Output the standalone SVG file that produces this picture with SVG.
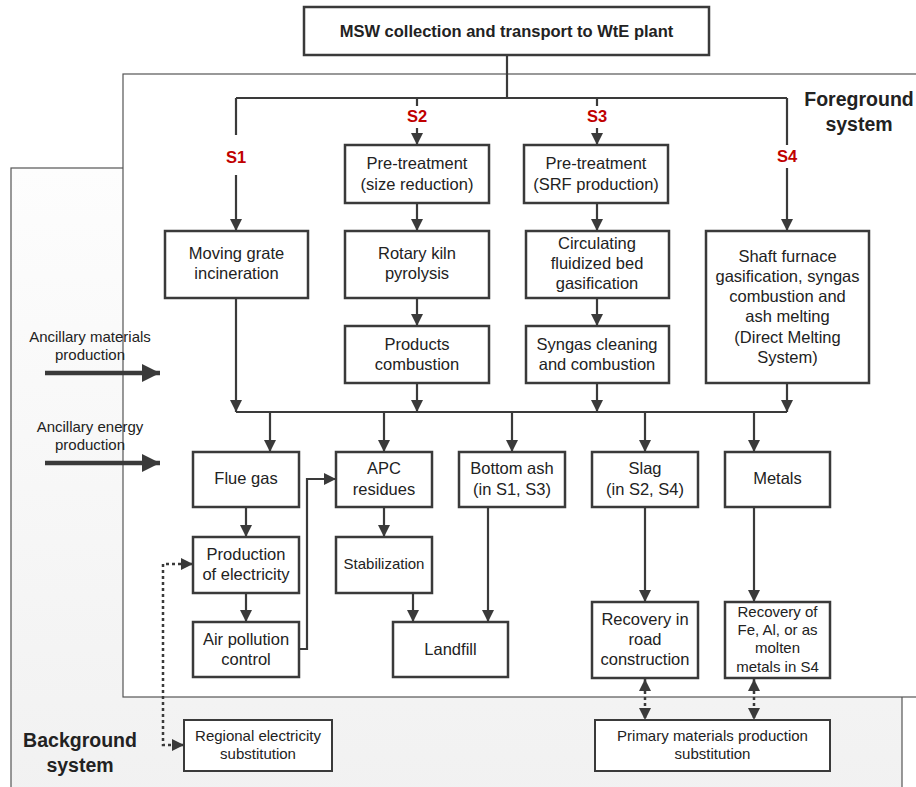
<svg xmlns="http://www.w3.org/2000/svg" width="916" height="787" viewBox="0 0 916 787">
<style>
.box{fill:#fff;stroke:#3a3a3a;stroke-width:2.5}
.sbox{fill:#fff;stroke:#3a3a3a;stroke-width:2}
.t{font-family:"Liberation Sans",Arial,sans-serif;font-size:16.5px;fill:#222;text-anchor:middle}
.ts{font-family:"Liberation Sans",Arial,sans-serif;font-size:15px;fill:#222;text-anchor:middle}
.tb{font-family:"Liberation Sans",Arial,sans-serif;font-size:16.5px;font-weight:bold;fill:#222;text-anchor:middle}
.lab{font-family:"Liberation Sans",Arial,sans-serif;font-size:16.5px;font-weight:bold;fill:#c00000;text-anchor:middle}
.sys{font-family:"Liberation Sans",Arial,sans-serif;font-size:19.5px;font-weight:bold;fill:#222;text-anchor:middle}
.c{fill:none;stroke:#3a3a3a;stroke-width:2.2}
.d{fill:none;stroke:#3a3a3a;stroke-width:2.5;stroke-dasharray:3,3}
.big{fill:none;stroke:#3a3a3a;stroke-width:4.5}
.bgr{fill:url(#bg);stroke:#555;stroke-width:1.2}
.fgr{fill:#fff;stroke:#555;stroke-width:1.2}
</style>
<defs>
<linearGradient id="bg" x1="0" y1="0" x2="0" y2="1">
<stop offset="0" stop-color="#fdfdfd"/>
<stop offset="1" stop-color="#f1f1f1"/>
</linearGradient>
<marker id="a" markerUnits="userSpaceOnUse" markerWidth="12" markerHeight="12" viewBox="0 0 12 12" refX="12" refY="6" orient="auto">
<path d="M0,0 L12,6 L0,12 z" fill="#3a3a3a"/>
</marker>
<marker id="as" markerUnits="userSpaceOnUse" markerWidth="12" markerHeight="12" viewBox="0 0 12 12" refX="0" refY="6" orient="auto">
<path d="M12,0 L0,6 L12,12 z" fill="#3a3a3a"/>
</marker>
<marker id="ab" markerUnits="userSpaceOnUse" markerWidth="18" markerHeight="18" viewBox="0 0 18 18" refX="18" refY="9" orient="auto">
<path d="M0,0 L18,9 L0,18 z" fill="#3a3a3a"/>
</marker>
</defs>
<rect width="916" height="787" fill="#fff"/>
<g id="background-system">
<rect class="bgr" x="11" y="168" width="891" height="640"/>
<text class="sys" x="80" y="747">Background</text>
<text class="sys" x="80" y="772">system</text>
</g>
<g id="foreground-system">
<rect class="fgr" x="123" y="74" width="820" height="623"/>
<text class="sys" x="859" y="106">Foreground</text>
<text class="sys" x="859" y="131">system</text>
</g>
<g id="connectors">
<path class="c" d="M507,55 V98"/>
<path class="c" d="M236,98 H787"/>
<path class="c" d="M236,98 V135"/>
<path class="c" d="M236,175 V231" marker-end="url(#a)"/>
<path class="c" d="M417,98 V106"/>
<path class="c" d="M417,128 V145" marker-end="url(#a)"/>
<path class="c" d="M597,98 V106"/>
<path class="c" d="M597,128 V145" marker-end="url(#a)"/>
<path class="c" d="M787,98 V145"/>
<path class="c" d="M787,168 V231" marker-end="url(#a)"/>
<path class="c" d="M417,203 V231" marker-end="url(#a)"/>
<path class="c" d="M597,203 V231" marker-end="url(#a)"/>
<path class="c" d="M417,298 V326" marker-end="url(#a)"/>
<path class="c" d="M597,298 V326" marker-end="url(#a)"/>
<path class="c" d="M236,298 V412" marker-end="url(#a)"/>
<path class="c" d="M417,383 V412" marker-end="url(#a)"/>
<path class="c" d="M597,383 V412" marker-end="url(#a)"/>
<path class="c" d="M787,383 V412" marker-end="url(#a)"/>
<path class="c" d="M236,412 H787"/>
<path class="c" d="M270,412 V452" marker-end="url(#a)"/>
<path class="c" d="M384,412 V452" marker-end="url(#a)"/>
<path class="c" d="M512,412 V452" marker-end="url(#a)"/>
<path class="c" d="M645,412 V452" marker-end="url(#a)"/>
<path class="c" d="M754,412 V452" marker-end="url(#a)"/>
<path class="c" d="M246,507 V537" marker-end="url(#a)"/>
<path class="c" d="M246,593 V622" marker-end="url(#a)"/>
<path class="c" d="M299,649 H307 V479 H336" marker-end="url(#a)"/>
<path class="c" d="M384,507 V537" marker-end="url(#a)"/>
<path class="c" d="M413,593 V622" marker-end="url(#a)"/>
<path class="c" d="M488,507 V622" marker-end="url(#a)"/>
<path class="c" d="M645,507 V602" marker-end="url(#a)"/>
<path class="c" d="M754,507 V602" marker-end="url(#a)"/>
<path class="d" d="M193,564 H163 V745 H184" marker-start="url(#as)" marker-end="url(#a)"/>
<path class="d" d="M645,679 V720" marker-start="url(#as)" marker-end="url(#a)"/>
<path class="d" d="M754,679 V720" marker-start="url(#as)" marker-end="url(#a)"/>
<path class="big" d="M45,373 H160" marker-end="url(#ab)"/>
<path class="big" d="M45,463 H160" marker-end="url(#ab)"/>
</g>
<g id="labels">
<text class="lab" x="236" y="163">S1</text>
<text class="lab" x="417" y="122">S2</text>
<text class="lab" x="597" y="122">S3</text>
<text class="lab" x="787" y="162">S4</text>
</g>
<g id="ancillary-materials">
<text class="ts" x="90" y="342">Ancillary materials</text>
<text class="ts" x="90" y="360">production</text>
</g>
<g id="ancillary-energy">
<text class="ts" x="90" y="432">Ancillary energy</text>
<text class="ts" x="90" y="450">production</text>
</g>
<g id="msw">
<rect class="box" x="304" y="7" width="405" height="48"/>
<text class="tb" x="506.5" y="37">MSW collection and transport to WtE plant</text>
</g>
<g id="pre-size">
<rect class="box" x="345" y="145" width="144" height="58"/>
<text class="t" x="417" y="169">Pre-treatment</text>
<text class="t" x="417" y="190">(size reduction)</text>
</g>
<g id="pre-srf">
<rect class="box" x="524" y="145" width="144" height="58"/>
<text class="t" x="596" y="169">Pre-treatment</text>
<text class="t" x="596" y="190">(SRF production)</text>
</g>
<g id="moving-grate">
<rect class="box" x="165" y="231" width="143" height="67"/>
<text class="t" x="236.5" y="259">Moving grate</text>
<text class="t" x="236.5" y="279">incineration</text>
</g>
<g id="rotary-kiln">
<rect class="box" x="345" y="231" width="144" height="67"/>
<text class="t" x="417" y="259">Rotary kiln</text>
<text class="t" x="417" y="279">pyrolysis</text>
</g>
<g id="cfb">
<rect class="box" x="526" y="231" width="143" height="67"/>
<text class="t" x="597" y="249">Circulating</text>
<text class="t" x="597" y="269">fluidized bed</text>
<text class="t" x="597" y="289">gasification</text>
</g>
<g id="shaft-furnace">
<rect class="box" x="706" y="231" width="163" height="152"/>
<text class="t" x="787.5" y="262">Shaft furnace</text>
<text class="t" x="787.5" y="282">gasification, syngas</text>
<text class="t" x="787.5" y="302">combustion and</text>
<text class="t" x="787.5" y="322">ash melting</text>
<text class="t" x="787.5" y="343">(Direct Melting</text>
<text class="t" x="787.5" y="363">System)</text>
</g>
<g id="products-combustion">
<rect class="box" x="345" y="326" width="144" height="57"/>
<text class="t" x="417" y="350">Products</text>
<text class="t" x="417" y="370">combustion</text>
</g>
<g id="syngas-cleaning">
<rect class="box" x="526" y="326" width="143" height="57"/>
<text class="t" x="597" y="350">Syngas cleaning</text>
<text class="t" x="597" y="370">and combustion</text>
</g>
<g id="flue-gas">
<rect class="box" x="193" y="452" width="106" height="55"/>
<text class="t" x="246" y="484">Flue gas</text>
</g>
<g id="apc">
<rect class="box" x="336" y="452" width="96" height="55"/>
<text class="t" x="384" y="474">APC</text>
<text class="t" x="384" y="495">residues</text>
</g>
<g id="bottom-ash">
<rect class="box" x="459" y="452" width="106" height="55"/>
<text class="t" x="512" y="474">Bottom ash</text>
<text class="t" x="512" y="495">(in S1, S3)</text>
</g>
<g id="slag">
<rect class="box" x="592" y="452" width="106" height="55"/>
<text class="t" x="645" y="474">Slag</text>
<text class="t" x="645" y="495">(in S2, S4)</text>
</g>
<g id="metals">
<rect class="box" x="725" y="452" width="105" height="55"/>
<text class="t" x="777.5" y="484">Metals</text>
</g>
<g id="electricity">
<rect class="box" x="193" y="537" width="106" height="56"/>
<text class="t" x="246" y="560">Production</text>
<text class="t" x="246" y="580">of electricity</text>
</g>
<g id="stabilization">
<rect class="box" x="336" y="537" width="96" height="56"/>
<text class="ts" x="384" y="569">Stabilization</text>
</g>
<g id="air-pollution-control">
<rect class="box" x="193" y="622" width="106" height="55"/>
<text class="t" x="246" y="645">Air pollution</text>
<text class="t" x="246" y="665">control</text>
</g>
<g id="landfill">
<rect class="box" x="393" y="622" width="115" height="55"/>
<text class="t" x="450.5" y="655">Landfill</text>
</g>
<g id="road-construction">
<rect class="box" x="592" y="602" width="106" height="76"/>
<text class="t" x="645" y="625">Recovery in</text>
<text class="t" x="645" y="645">road</text>
<text class="t" x="645" y="665">construction</text>
</g>
<g id="metal-recovery">
<rect class="box" x="725" y="602" width="105" height="76"/>
<text class="ts" x="777.5" y="617">Recovery of</text>
<text class="ts" x="777.5" y="635">Fe, Al, or as</text>
<text class="ts" x="777.5" y="653">molten</text>
<text class="ts" x="777.5" y="672">metals in S4</text>
</g>
<g id="regional-electricity">
<rect class="sbox" x="184" y="720" width="148" height="51"/>
<text class="ts" x="258" y="741">Regional electricity</text>
<text class="ts" x="258" y="759">substitution</text>
</g>
<g id="primary-materials">
<rect class="sbox" x="595" y="720" width="235" height="51"/>
<text class="ts" x="712.5" y="741">Primary materials production</text>
<text class="ts" x="712.5" y="759">substitution</text>
</g>
</svg>
